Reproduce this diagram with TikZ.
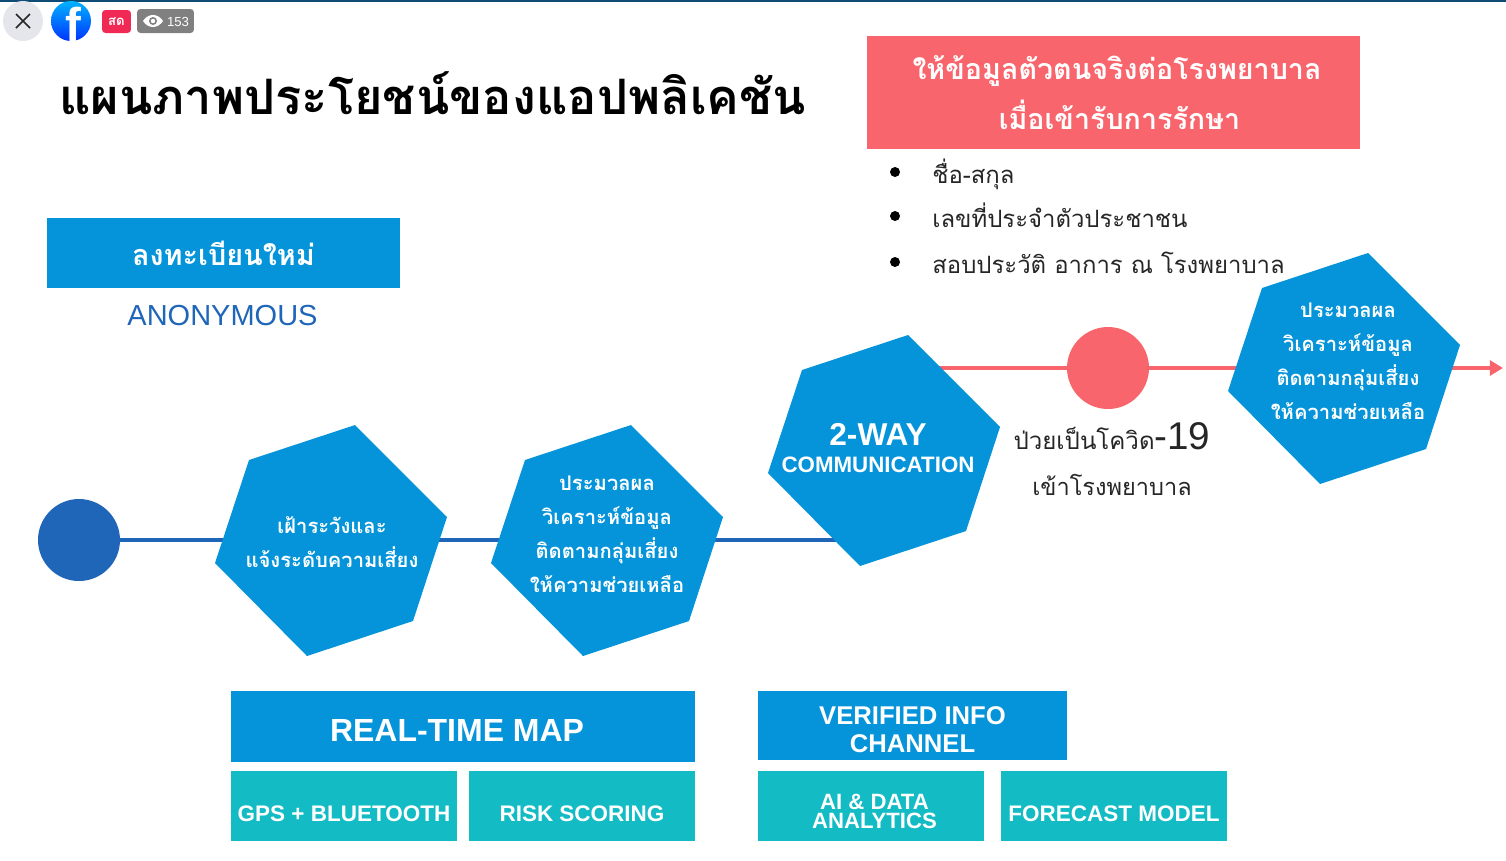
\documentclass[tikz,border=0pt]{standalone}
\usepackage{fontspec}
\setmainfont{Liberation Sans}
\newfontfamily\thaifont[Script=Thai]{Loma}
\usepackage{xcolor}
\usetikzlibrary{shapes,arrows,arrows.meta}
\usetikzlibrary{positioning}
\usetikzlibrary{backgrounds}

\definecolor{hexblue}{HTML}{0594DA}
\definecolor{lineblue}{HTML}{1F66B8}
\definecolor{tealbox}{HTML}{13BBC5}
\definecolor{salmon}{HTML}{F9656C}
\definecolor{topbar}{HTML}{0F4C75}
\definecolor{closegray}{HTML}{E4E6EB}
\definecolor{livered}{HTML}{F02A54}

\newcommand{\fsz}[1]{\fontsize{#1}{#1}\selectfont}
\newcommand{\fszl}[2]{\fontsize{#1}{#2}\selectfont}
\newcommand{\low}[2]{\smash{\raisebox{#1}{#2}}}

% hexagon body with a hidden core node for the connectors
\newcommand{\hexa}[2]{
  \fill[hexblue,shift={(#2)}] (24,-115) -- (116,-23) -- (82,81) -- (-24,116) -- (-116,23) -- (-82,-80) -- cycle;
  \node[hexcore] (#1) at (#2) {};
}

\tikzset{
  hexcore/.style={circle,minimum size=2cm,inner sep=0},
  box/.style={rectangle,inner sep=0,text=white,align=center,font=\bfseries},
  hexlabel/.style={text=white,align=center,inner sep=0,font=\thaifont\bfseries\fszl{11.5}{19.4}},
  plain/.style={text=black!85,inner sep=0,font=\thaifont\fsz{13.6}},
  dotnode/.style={circle,fill=#1,minimum size=1.64cm,inner sep=0},
  wire/.style={line width=2.8pt},
  bulletdot/.style={circle,fill=black,minimum size=.2cm,inner sep=0},
}

\begin{document}
\begin{tikzpicture}[x=.02cm,y=-.02cm]
  \useasboundingbox (0,0) rectangle (1506,860);

  % top bar
  \fill[topbar] (0,0) rectangle (1506,1.5);
  \node[circle,fill=closegray,minimum size=.8cm,inner sep=0] (closebtn) at (23,21) {};
  \draw[black!85,line width=.9pt] (16,14) -- (30,28) (30,14) -- (16,28);
  \node[circle,top color=cyan!70!blue,bottom color=blue!80!cyan,draw=none,minimum size=.8cm,inner sep=0] (fblogo) at (71,21) {};
  \begin{scope}
    \clip (71,21) circle (20);
    \node[text=white,font=\bfseries\fsz{27},inner sep=0,anchor=base] (fbletter) at (73,41) {f};
  \end{scope}
  \node[rectangle,rounded corners=2pt,fill=livered,minimum width=.58cm,minimum height=.46cm,inner sep=0,text=white,font=\thaifont\bfseries\fsz{7.5}] (livebadge) at (116.5,21.5) {สด};
  \node[rectangle,rounded corners=2pt,fill=black!50,minimum width=1.14cm,minimum height=.48cm,inner sep=0] (viewbadge) at (165.5,21) {};
  \fill[white] (143,21) .. controls (148,13) and (158,13) .. (163,21) .. controls (158,29) and (148,29) .. (143,21) -- cycle;
  \fill[black!50] (153,21) circle (4);
  \fill[white] (153,21) circle (2.2);
  \node[text=white,font=\fsz{7.5},inner sep=0] (viewcount) at (178,22) {153};

  % title
  \node[inner sep=0,font=\thaifont\bfseries\fsz{27.8}] (title) at (432.5,93) {แผนภาพประโยชน์ของแอปพลิเคชัน};

  % red box and list
  \node[box,fill=salmon,minimum width=9.86cm,minimum height=2.26cm,font=\thaifont\bfseries\fszl{16.3}{28.3}] (redbox) at (1113.5,92.5) {\hspace*{4pt}ให้ข้อมูลตัวตนจริงต่อโรงพยาบาล\\\hspace*{6.8pt}เมื่อเข้ารับการรักษา};
  \foreach \name/\ypos/\txt in {a/172/ชื่อ-สกุล,b/216/เลขที่ประจำตัวประชาชน,c/262/สอบประวัติ อาการ ณ โรงพยาบาล} {
    \node[bulletdot] (dot\name) at (895,\ypos) {};
    \node[plain,anchor=base west] (item\name) at (932,\ypos+11) {\txt};
  }

  % register
  \node[box,fill=hexblue,minimum width=7.06cm,minimum height=1.4cm,font=\thaifont\bfseries\fsz{16.4}] (register) at (223.5,253) {ลงทะเบียนใหม่};
  \node[inner sep=0,text=lineblue,font=\fsz{16.5},below=.34cm of register,xshift=-.02cm] (anon) {ANONYMOUS};

  % time line
  \node[dotnode=lineblue] (start) at (79,540) {};
  \hexa{hfirst}{331,540}
  \hexa{hsecond}{607,540}
  \hexa{hthird}{884,450}
  \hexa{hfourth}{1344,368}
  \node[dotnode=salmon] (sick) at (1108,368) {};
  \coordinate (inthird) at (850,540);
  \coordinate (outthird) at (930,368);
  \coordinate (lineend) at (1503,368);
  \begin{pgfonlayer}{background}
    \draw[wire,lineblue] (start) -- (hfirst);
    \draw[wire,lineblue] (hfirst) -- (hsecond);
    \draw[wire,lineblue] (hsecond) -- (inthird);
    \draw[wire,salmon] (outthird) -- (sick);
    \draw[wire,salmon] (sick) -- (hfourth);
    \draw[wire,salmon,-{Triangle[length=7.5pt,width=8.5pt]}] (hfourth) -- (lineend);
  \end{pgfonlayer}

  % hexagon labels
  \node[hexlabel] (tfirst) at (332,542) {เฝ้าระวังและ\\แจ้งระดับความเสี่ยง};
  \node[hexlabel] (tsecond) at (607,534) {ประมวลผล\\วิเคราะห์ข้อมูล\\ติดตามกลุ่มเสี่ยง\\ให้ความช่วยเหลือ};
  \node[hexlabel] (tfourth) at (1348,361) {ประมวลผล\\วิเคราะห์ข้อมูล\\ติดตามกลุ่มเสี่ยง\\ให้ความช่วยเหลือ};
  \node[text=white,align=center,inner sep=0,font=\bfseries] (tthird) at (878,448) {{\fsz{18}2-WAY}\\[3pt]{\fsz{12.7}COMMUNICATION}};
  \node[plain,align=center,font=\thaifont\fszl{13.4}{25.8}] (sicklabel) at (1112,459) {{\fsz{13.7}ป่วยเป็นโควิด}{\normalfont\rmfamily\fontsize{22}{25.8}\selectfont -19}\\เข้าโรงพยาบาล};

  % bottom boxes
  \node[box,fill=hexblue,minimum width=9.28cm,minimum height=1.42cm,font=\bfseries\fsz{18.2}] (rtmap) at (463,726) {\hspace*{-6.8pt}\low{-8.8pt}{REAL-TIME MAP}};
  \node[box,fill=tealbox,minimum width=4.52cm,minimum height=1.4cm,font=\bfseries\fsz{12.8}] (gps) at (344,806) {\low{-8.7pt}{GPS + BLUETOOTH}};
  \node[box,fill=tealbox,minimum width=4.52cm,minimum height=1.4cm,font=\bfseries\fsz{12.8}] (risk) at (582,806) {\low{-8.7pt}{RISK SCORING}};
  \node[box,fill=hexblue,minimum width=6.18cm,minimum height=1.38cm,font=\bfseries\fszl{14.6}{15.9}] (verified) at (912.5,725.5) {\low{-7.65pt}{VERIFIED INFO}\\\low{-7.65pt}{CHANNEL}};
  \node[box,fill=tealbox,minimum width=4.52cm,minimum height=1.4cm,font=\bfseries\fszl{12.6}{11.3}] (aibox) at (871,806) {\hspace*{4pt}\low{-7.4pt}{AI \& DATA}\\\hspace*{4pt}\low{-7.4pt}{ANALYTICS}};
  \node[box,fill=tealbox,minimum width=4.52cm,minimum height=1.4cm,font=\bfseries\fsz{12.8}] (forecast) at (1114,806) {\low{-8.7pt}{FORECAST MODEL}};
\end{tikzpicture}
\end{document}
